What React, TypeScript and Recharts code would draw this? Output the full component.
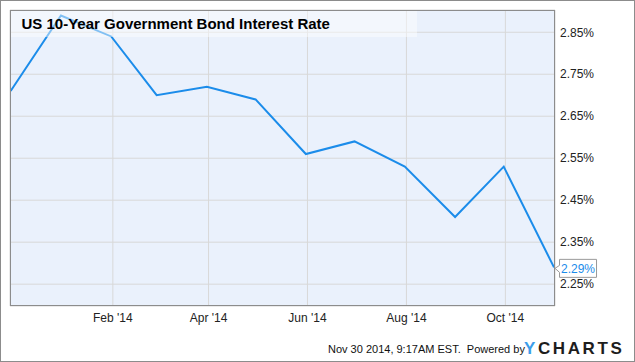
import { CartesianGrid, Line, LineChart, XAxis, YAxis } from 'recharts'

// monthly averages, plotted at month end
const dates = [
  '2013-11-30', '2013-12-31', '2014-01-31', '2014-02-28', '2014-03-31', '2014-04-30',
  '2014-05-31', '2014-06-30', '2014-07-31', '2014-08-31', '2014-09-30', '2014-10-31',
]
const rates = [2.71, 2.89, 2.84, 2.7, 2.72, 2.69, 2.56, 2.59, 2.53, 2.41, 2.53, 2.29]

const tickDates = ['2014-02-01', '2014-04-01', '2014-06-01', '2014-08-01', '2014-10-01']
const tickLabels = ["Feb '14", "Apr '14", "Jun '14", "Aug '14", "Oct '14"]
const rateTicks = [2.25, 2.35, 2.45, 2.55, 2.65, 2.75, 2.85]

const DAY = 86400000
const origin = Date.UTC(2013, 10, 30)
const dayOf = (iso: string) => (Date.parse(iso + 'T00:00:00Z') - origin) / DAY

const data = dates.map((d, i) => ({ day: dayOf(d), rate: rates[i] }))
const xTicks = tickDates.map(dayOf)

const FONT = '"Liberation Sans", Arial, sans-serif'
const BLUE = '#1b8cea'

function EndTag(props: any) {
  const { x, y, index, value } = props
  if (index !== rates.length - 1) return null
  const bx = x + 5.5
  return (
    <g>
      <path
        d={`M${bx},${y - 8} H${bx + 37} V${y + 10} H${bx} V${y + 5} L${x + 1},${y + 1} L${bx},${y - 2} Z`}
        fill="#fff"
        stroke="#999"
      />
      <text x={bx + 18.5} y={y + 5.5} textAnchor="middle" fontSize={12} fill={BLUE} fontFamily={FONT}>
        {`${value.toFixed(2)}%`}
      </text>
    </g>
  )
}

export default function App() {
  return (
    <div style={{ position: 'relative', width: 635, height: 362, fontFamily: FONT }}>
      <style>{'body{margin:0}'}</style>
      <LineChart width={635} height={362} data={data} margin={{ top: 10, right: 0, bottom: 0, left: 10 }}>
        <CartesianGrid stroke="#d8d8d8" fill="#eaf1fc" fillOpacity={1} />
        <XAxis
          dataKey="day"
          type="number"
          domain={[-0.4, 335.6]}
          ticks={xTicks}
          tickFormatter={(v: number) => tickLabels[xTicks.indexOf(v)] ?? ''}
          axisLine={false}
          tickLine={false}
          tickSize={5}
          tickMargin={2}
          height={56}
          allowDataOverflow
          tick={{ fill: '#222', fontSize: 12, fontFamily: FONT }}
        />
        <YAxis
          orientation="right"
          type="number"
          domain={[2.198, 2.903]}
          ticks={rateTicks}
          tickFormatter={(v: number) => `${v.toFixed(2)}%`}
          axisLine={false}
          tickLine={false}
          tickSize={5}
          tickMargin={0}
          width={80}
          allowDataOverflow
          tick={{ fill: '#222', fontSize: 12, fontFamily: FONT, textAnchor: 'start' }}
        />
        <Line
          dataKey="rate"
          type="linear"
          stroke={BLUE}
          strokeWidth={2}
          dot={false}
          activeDot={false}
          isAnimationActive={false}
          label={(p: any) => <EndTag key={p.index} {...p} />}
        />
      </LineChart>
      <svg
        width={635}
        height={362}
        style={{ position: 'absolute', left: 0, top: 0, pointerEvents: 'none' }}
      >
        <rect x={0.5} y={0.5} width={634} height={361} fill="none" stroke="#8c8c8c" />
        <rect x={10.5} y={10.5} width={544} height={295} fill="none" stroke="#8c8c8c" />
        <rect x={11} y={11} width={406} height={26} fill="#fff" fillOpacity={0.45} />
        <text x={21.5} y={28.5} fontSize={15} fontWeight="bold" fill="#000" fontFamily={FONT}>
          US 10-Year Government Bond Interest Rate
        </text>
        <text x={328} y={353.3} fontSize={11} fill="#111" fontFamily={FONT} style={{ whiteSpace: 'pre' }}>
          {'Nov 30 2014, 9:17AM EST.  Powered by'}
        </text>
        <text x={524} y={354.3} fontSize={17} fontWeight="bold" letterSpacing={2.6} fontFamily={FONT}>
          <tspan fill="#3c9de9">Y</tspan>
          <tspan fill="#1d1d1d">CHARTS</tspan>
        </text>
      </svg>
    </div>
  )
}
